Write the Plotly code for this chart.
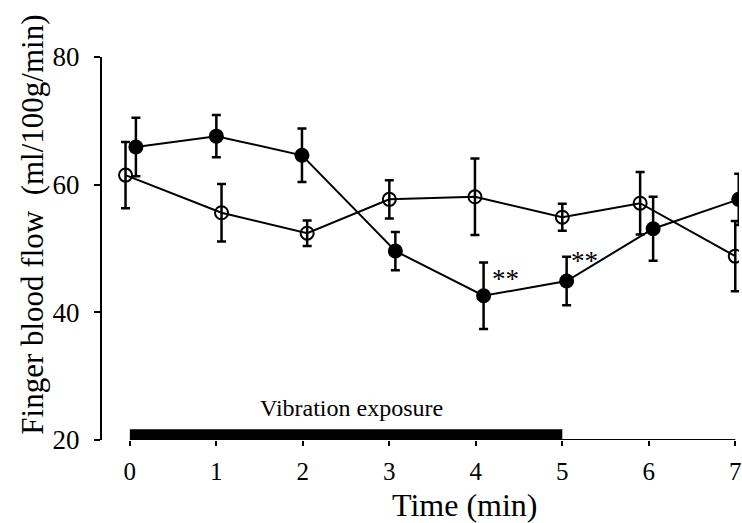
import plotly.graph_objects as go

# Data
time_filled = [0.07, 1.0, 1.99, 3.07, 4.09, 5.05, 6.05, 7.04]
flow_filled = [65.9, 67.6, 64.6, 49.6, 42.6, 44.9, 53.1, 57.7]
err_filled = [4.6, 3.3, 4.2, 3.0, 5.2, 3.8, 5.0, 4.0]

time_open = [-0.05, 1.06, 2.05, 3.0, 3.99, 5.0, 5.9, 7.0]
flow_open = [61.5, 55.6, 52.4, 57.7, 58.1, 54.9, 57.1, 48.8]
err_open = [5.2, 4.5, 2.0, 3.0, 6.0, 2.1, 4.9, 5.5]

x_ticks = [0, 1, 2, 3, 4, 5, 6, 7]
y_ticks = [20, 40, 60, 80]
exposure_start, exposure_end = 0, 5

FONT = "Liberation Serif, Times New Roman, serif"

fig = go.Figure()

fig.add_trace(go.Scatter(
    x=time_open, y=flow_open, mode="lines+markers",
    line=dict(color="black", width=2),
    marker=dict(symbol="circle-open", size=13, color="black", line=dict(width=2)),
    error_y=dict(type="data", array=err_open, visible=True, color="black",
                 thickness=2.5, width=4.5),
    showlegend=False,
))
fig.add_trace(go.Scatter(
    x=time_filled, y=flow_filled, mode="lines+markers",
    line=dict(color="black", width=2),
    marker=dict(symbol="circle", size=15, color="black"),
    error_y=dict(type="data", array=err_filled, visible=True, color="black",
                 thickness=2.5, width=4.5),
    showlegend=False,
))

# x-axis baseline and vibration exposure bar
fig.add_shape(type="line", x0=x_ticks[0], x1=x_ticks[-1], y0=20, y1=20,
              xref="x", yref="y", line=dict(color="black", width=2))
fig.add_shape(type="rect", x0=exposure_start, x1=exposure_end, y0=20, y1=21.7,
              xref="x", yref="y", fillcolor="black", line=dict(width=0))

fig.add_annotation(x=2.56, y=22.6, xref="x", yref="y", text="Vibration exposure",
                   showarrow=False, yanchor="bottom",
                   font=dict(family=FONT, size=24, color="black"))
fig.add_annotation(x=4.34, y=45.2, xref="x", yref="y", text="**",
                   showarrow=False, font=dict(family=FONT, size=27, color="black"))
fig.add_annotation(x=5.26, y=48.0, xref="x", yref="y", text="**",
                   showarrow=False, font=dict(family=FONT, size=27, color="black"))

# y-axis title as annotation
fig.add_annotation(x=-0.109, y=0.561, xref="paper", yref="paper",
                   text="Finger blood flow  (ml/100g/min)", textangle=-90,
                   showarrow=False, xanchor="center", yanchor="middle",
                   font=dict(family=FONT, size=31, color="black"))
# x-axis title
fig.add_annotation(x=(467 - 130) / 86.9, y=-0.118, xref="x", yref="paper",
                   text="Time (min)", showarrow=False, yanchor="top",
                   font=dict(family=FONT, size=32, color="black"))

fig.update_layout(
    width=742, height=523,
    margin=dict(l=102, r=0, t=57, b=83),
    paper_bgcolor="white", plot_bgcolor="white",
    font=dict(family=FONT, color="black"),
    xaxis=dict(range=[-0.322, 7.043], tickvals=x_ticks, showline=False,
               ticks="outside", ticklen=5, tickwidth=2, tickcolor="black",
               showgrid=False, zeroline=False, ticklabelstandoff=4,
               ticklabeloverflow="allow",
               tickfont=dict(family=FONT, size=25, color="black")),
    yaxis=dict(range=[20, 80], tickvals=y_ticks, showline=True, linewidth=2,
               linecolor="black", ticks="outside", ticklen=6, tickwidth=2,
               tickcolor="black", showgrid=False, zeroline=False,
               ticklabelstandoff=9,
               tickfont=dict(family=FONT, size=27, color="black")),
)

fig.write_html("out.html")
